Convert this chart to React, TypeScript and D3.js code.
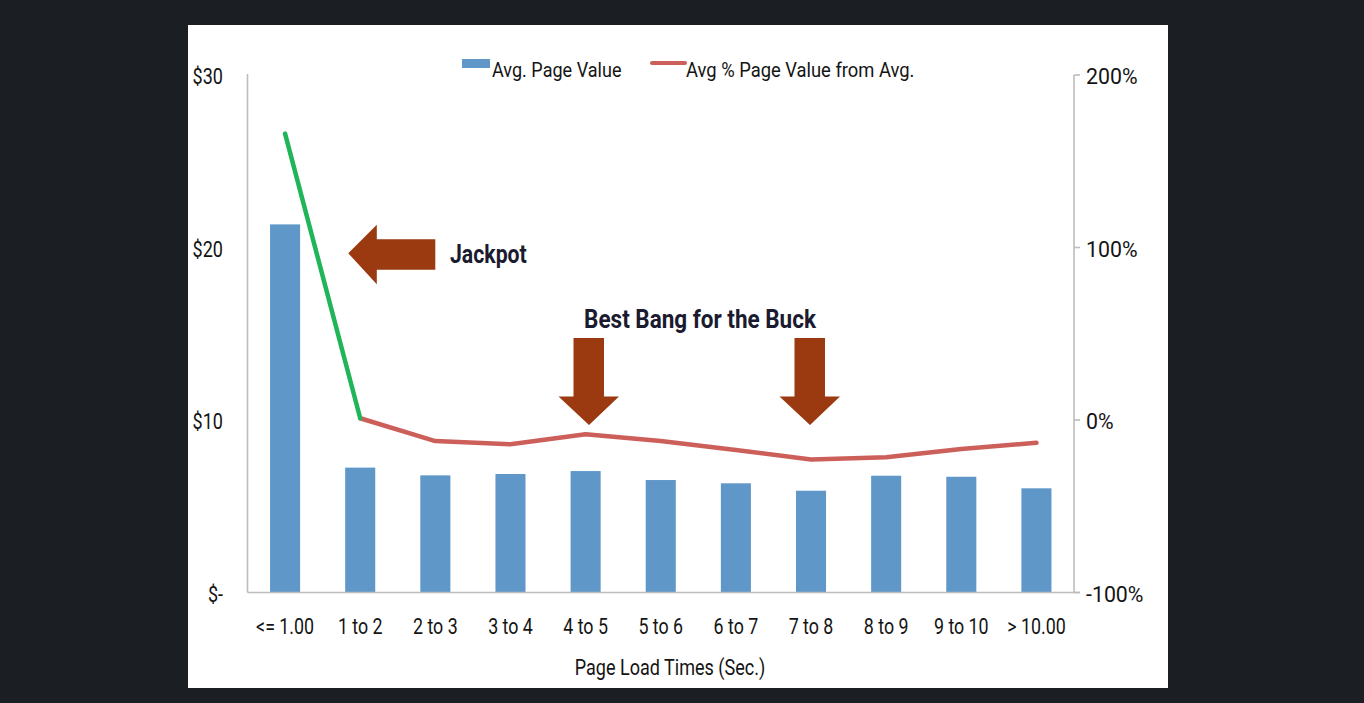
import React from "react";
import * as d3 from "d3";

const categories = ["<= 1.00", "1 to 2", "2 to 3", "3 to 4", "4 to 5", "5 to 6", "6 to 7", "7 to 8", "8 to 9", "9 to 10", "> 10.00"];
const avgPageValue = [21.34, 7.24, 6.79, 6.87, 7.04, 6.52, 6.33, 5.9, 6.77, 6.71, 6.04];
const pctFromAvg = [166, 1, -12.2, -14.1, -8.3, -12.2, -17.4, -22.9, -21.6, -16.8, -13.2];
const leftTicks = [0, 10, 20, 30];
const leftTickLabels = ["$-", "$10", "$20", "$30"];
const rightTicks = [-100, 0, 100, 200];
const rightTickLabels = ["-100%", "0%", "100%", "200%"];

const FONT = "Roboto, 'Noto Sans', sans-serif";

type TProps = {
  x: number; y: number; sx?: number; size: number; anchor?: "start" | "middle" | "end";
  bold?: boolean; fill: string; children: React.ReactNode;
};
function T({ x, y, sx = 1, size, anchor = "start", bold = false, fill, children }: TProps) {
  return (
    <text transform={`translate(${x},${y}) scale(${sx},1)`} textAnchor={anchor} fontSize={size}
      fontWeight={bold ? "bold" : "normal"} fill={fill}>{children}</text>
  );
}

export default function App() {
  const W = 1364, H = 703;
  const left = 247.5, right = 1074, top = 75, bottom = 592.5;
  const x = d3.scaleBand<string>().domain(categories).range([left, right]).paddingInner(0.6).paddingOuter(0.3);
  const yL = d3.scaleLinear().domain([0, 30]).range([bottom, top]);
  const yR = d3.scaleLinear().domain([-100, 200]).range([bottom, top]);
  const cx = (c: string) => (x(c) ?? 0) + x.bandwidth() / 2;
  const pts = pctFromAvg;
  const lineGen = d3.line<[number, number]>();
  const greenPath = lineGen([[cx(categories[0]), yR(pts[0])], [cx(categories[1]), yR(pts[1])]]) || "";
  const redPath = lineGen(pts.slice(1).map((d, i) => [cx(categories[i + 1]), yR(d)] as [number, number])) || "";

  const axisColor = "#bdbdbd";
  const textColor = "#141414";
  const annoColor = "#1b1b2f";
  const arrowColor = "#9b3a10";

  const leftArrow = (tipX: number, tipY: number) => {
    const p = d3.path();
    p.moveTo(tipX, tipY);
    p.lineTo(tipX + 28.5, tipY - 28.5);
    p.lineTo(tipX + 28.5, tipY - 14);
    p.lineTo(tipX + 87, tipY - 14);
    p.lineTo(tipX + 87, tipY + 16.5);
    p.lineTo(tipX + 28.5, tipY + 16.5);
    p.lineTo(tipX + 28.5, tipY + 31);
    p.closePath();
    return p.toString();
  };
  const downArrow = (tipX: number, tipY: number) => {
    const p = d3.path();
    p.moveTo(tipX, tipY);
    p.lineTo(tipX - 30.5, tipY - 28.5);
    p.lineTo(tipX - 15.5, tipY - 28.5);
    p.lineTo(tipX - 15.5, tipY - 87);
    p.lineTo(tipX + 15, tipY - 87);
    p.lineTo(tipX + 15, tipY - 28.5);
    p.lineTo(tipX + 30, tipY - 28.5);
    p.closePath();
    return p.toString();
  };

  return (
    <svg width={W} height={H} style={{ position: "absolute", left: 0, top: 0, display: "block" }} fontFamily={FONT}>
      <rect x={0} y={0} width={W} height={H} fill="#1b1e23" />
      <rect x={188} y={25} width={980} height={663} fill="#ffffff" />

      {categories.map((c, i) => (
        <rect key={c} x={x(c)} y={yL(avgPageValue[i])} width={x.bandwidth()} height={bottom - yL(avgPageValue[i])} fill="#6097c9" />
      ))}

      <line x1={left} x2={left} y1={74} y2={bottom} stroke={axisColor} strokeWidth={1.6} />
      <line x1={right} x2={right} y1={yR(200)} y2={bottom} stroke={axisColor} strokeWidth={1.6} />
      <line x1={left} x2={right + 6} y1={bottom} y2={bottom} stroke={axisColor} strokeWidth={1.6} />
      {rightTicks.map((t) => (
        <line key={t} x1={right} x2={right + 6} y1={yR(t)} y2={yR(t)} stroke={axisColor} strokeWidth={1.6} />
      ))}

      <path d={redPath} fill="none" stroke="#cd5f5a" strokeWidth={4.5} strokeLinejoin="round" strokeLinecap="round" />
      <path d={greenPath} fill="none" stroke="#20b558" strokeWidth={4.5} strokeLinecap="round" />

      {leftTicks.map((t, i) => (
        <T key={t} x={223} y={yL(t) + 9} anchor="end" size={22} sx={0.82} fill={textColor}>{leftTickLabels[i]}</T>
      ))}
      {rightTicks.map((t, i) => (
        <T key={t} x={1086} y={yR(t) + 9} size={22} sx={0.97} fill={textColor}>{rightTickLabels[i]}</T>
      ))}
      {categories.map((c) => (
        <T key={c} x={cx(c)} y={634} anchor="middle" size={22} sx={0.81} fill={textColor}>{c}</T>
      ))}
      <T x={670} y={675} anchor="middle" size={22} sx={0.82} fill={textColor}>Page Load Times (Sec.)</T>

      <rect x={462} y={59} width={28} height={9} fill="#6097c9" />
      <T x={492} y={77} size={21} sx={0.86} fill={textColor}>Avg. Page Value</T>
      <line x1={652} x2={685} y1={63} y2={63} stroke="#cd5f5a" strokeWidth={4} strokeLinecap="round" />
      <T x={686} y={77} size={21} sx={0.875} fill={textColor}>Avg % Page Value from Avg.</T>

      <path d={leftArrow(348.3, 253.3)} fill={arrowColor} />
      <T x={450} y={263} size={25} bold sx={0.85} fill={annoColor}>Jackpot</T>
      <T x={700} y={328} anchor="middle" size={25} bold sx={0.9} fill={annoColor}>Best Bang for the Buck</T>
      <path d={downArrow(589, 425)} fill={arrowColor} />
      <path d={downArrow(810, 425)} fill={arrowColor} />
    </svg>
  );
}
